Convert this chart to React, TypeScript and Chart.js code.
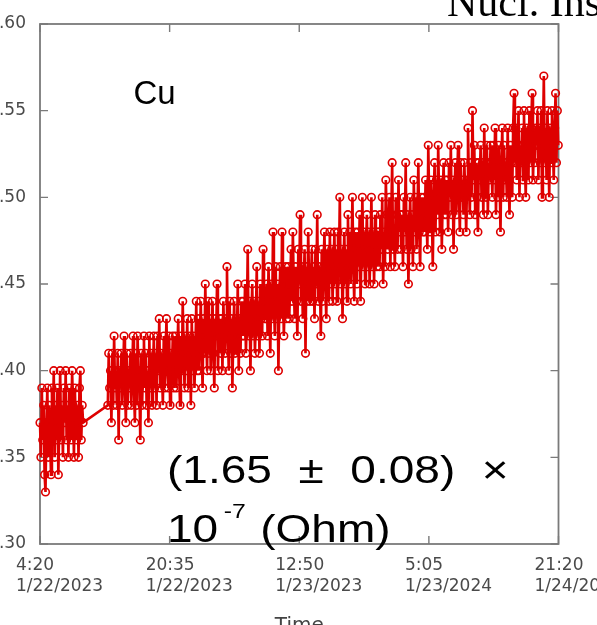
import React, { useEffect, useRef } from 'react';
import { Chart, registerables } from 'chart.js';

Chart.register(...registerables);

// ---------- data ----------
const X_TICK_MINUTES = [0, 975, 1950, 2925, 3900];
const X_TICK_LABELS = [
  ['4:20', '1/22/2023'],
  ['20:35', '1/22/2023'],
  ['12:50', '1/23/2023'],
  ['5:05', '1/23/2024'],
  ['21:20', '1/24/2024'],
];
const Y_TICK_VALUES = [0.3, 0.35, 0.4, 0.45, 0.5, 0.55, 0.6];
const Y_TICK_LABELS = ['.30', '.35', '.40', '.45', '.50', '.55', '.60'];

// sampling grid (minutes after 4:20 1/22)
const SEG1_START_MIN = 0;
const SEG1_STEP_MIN = 6.9;
const SEG2_START_MIN = 510;
const SEG2_STEP_MIN = 6.79;

// readings in hundredths
const SEG1_VALUES = [
  37, 35, 39, 36, 38, 34, 33, 37, 39, 35, 38, 36, 34, 39, 37, 40, 35, 38, 36, 39, 34, 37, 40, 36,
  38, 35, 39, 37, 40, 36, 38, 35, 39, 37, 36, 40, 38, 35, 39, 37, 36, 38, 35, 39, 40, 36, 38, 37,
];
const SEG2_VALUES = [
  38, 41, 39, 40, 37, 41, 38, 42, 39, 40, 38, 41, 36, 40, 39, 41, 38, 40, 42, 39, 37, 41, 38, 40, 39,
  41, 38, 40, 42, 39, 37, 41, 38, 42, 40, 39, 36, 41, 38, 40, 42, 39, 41, 38, 40, 37, 42, 39, 41, 38,
  40, 42, 39, 41, 38, 42, 40, 43, 39, 41, 40, 38, 42, 39, 41, 43, 40, 39, 42, 38, 41, 40, 42, 39, 41,
  42, 39, 41, 43, 40, 38, 42, 40, 44, 41, 39, 42, 40, 43, 39, 41, 42, 38, 43, 40, 42, 39, 41, 44, 40,
  43, 40, 42, 44, 41, 39, 43, 41, 45, 42, 40, 44, 41, 43, 40, 42, 44, 41, 39, 43, 42, 45, 40, 42, 43,
  41, 43, 40, 44, 42, 41, 43, 46, 42, 40, 44, 41, 43, 39, 42, 44, 41, 43, 42, 45, 40, 43, 41, 44, 42,
  44, 42, 45, 41, 43, 47, 42, 44, 40, 43, 45, 42, 44, 41, 43, 46, 42, 44, 41, 45, 43, 42, 47, 44, 43,
  43, 45, 42, 46, 44, 41, 45, 43, 48, 44, 42, 46, 43, 45, 40, 44, 46, 43, 48, 45, 42, 44, 46, 43, 45,
  46, 43, 45, 47, 44, 48, 45, 43, 46, 44, 42, 47, 45, 49, 44, 46, 43, 45, 47, 41, 46, 44, 48, 45, 44,
  45, 47, 44, 46, 43, 47, 45, 49, 44, 46, 45, 42, 47, 44, 46, 48, 45, 43, 47, 46, 44, 48, 45, 47, 44,
  46, 48, 45, 47, 44, 48, 46, 50, 45, 47, 43, 46, 48, 45, 47, 44, 49, 46, 48, 45, 47, 50, 46, 44, 48,
  47, 45, 48, 46, 49, 44, 47, 50, 46, 48, 45, 47, 49, 46, 48, 45, 47, 50, 46, 48, 45, 49, 47, 46, 48,
  48, 46, 49, 47, 50, 45, 48, 46, 51, 49, 47, 48, 50, 46, 49, 52, 47, 48, 46, 50, 49, 47, 51, 48, 49,
  47, 49, 46, 50, 48, 52, 47, 49, 45, 48, 50, 47, 49, 46, 51, 48, 50, 47, 49, 52, 48, 46, 50, 49, 48,
  50, 48, 51, 49, 47, 53, 50, 48, 51, 49, 46, 50, 52, 48, 51, 49, 53, 50, 48, 51, 47, 50, 52, 49, 51,
  49, 51, 48, 52, 50, 53, 49, 51, 47, 50, 52, 49, 51, 53, 50, 48, 52, 50, 51, 49, 52, 50, 48, 51, 54,
  51, 49, 52, 50, 55, 51, 53, 49, 52, 50, 48, 52, 51, 53, 50, 52, 49, 54, 51, 50, 53, 49, 52, 51, 53,
  52, 50, 53, 51, 54, 49, 52, 50, 53, 51, 48, 52, 54, 50, 53, 51, 52, 50, 54, 51, 49, 53, 52, 50, 54,
  56, 52, 54, 51, 53, 55, 50, 53, 52, 54, 51, 55, 52, 50, 54, 53, 51, 55, 52, 54, 56, 51, 53, 52, 54,
  53, 55, 51, 54, 52, 55, 50, 53, 57, 52, 54, 51, 55, 53, 50, 54, 52, 55, 53, 51, 54, 56, 52, 55, 53,
];

const RED = 'rgb(222,0,0)';
const FRAME = '#7a7a7a';
const TICK_TEXT = '#4a4a4a';

function buildPoints() {
  const pts: { x: number; y: number }[] = [];
  SEG1_VALUES.forEach((v, i) => pts.push({ x: SEG1_START_MIN + i * SEG1_STEP_MIN, y: v / 100 }));
  SEG2_VALUES.forEach((v, i) => pts.push({ x: SEG2_START_MIN + i * SEG2_STEP_MIN, y: v / 100 }));
  return pts;
}

const framePlugin = {
  id: 'frame',
  beforeDatasetsDraw(chart: any) {
    const { ctx, chartArea: a, scales } = chart;
    ctx.save();
    ctx.strokeStyle = FRAME;
    ctx.lineWidth = 1.8;
    ctx.strokeRect(a.left, a.top, a.right - a.left, a.bottom - a.top);
    const L = 8;
    ctx.lineWidth = 1.4;
    ctx.beginPath();
    scales.x.ticks.forEach((t: any) => {
      const px = scales.x.getPixelForValue(t.value);
      ctx.moveTo(px, a.bottom); ctx.lineTo(px, a.bottom - L);
      ctx.moveTo(px, a.top); ctx.lineTo(px, a.top + L);
    });
    scales.y.ticks.forEach((t: any) => {
      const py = scales.y.getPixelForValue(t.value);
      ctx.moveTo(a.left, py); ctx.lineTo(a.left + L, py);
      ctx.moveTo(a.right, py); ctx.lineTo(a.right - L, py);
    });
    ctx.stroke();
    ctx.restore();
  },
};

const textPlugin = {
  id: 'texts',
  afterDraw(chart: any) {
    const { ctx } = chart;
    ctx.save();
    ctx.fillStyle = '#000';
    ctx.textBaseline = 'alphabetic';
    ctx.textAlign = 'left';
    ctx.font = '42px "Liberation Serif"';
    ctx.fillText('Nucl. Ins', 447, 16);
    ctx.font = '33px "Liberation Sans"';
    ctx.fillText('Cu', 133.5, 104);
    ctx.save();
    ctx.translate(167, 483);
    ctx.scale(1.18, 1);
    ctx.font = '39px "Liberation Sans"';
    const words = ['(1.65', '±', '0.08)', '×'];
    const sp = ctx.measureText(' ').width + 11.7;
    let x = 0;
    words.forEach((w) => {
      ctx.fillText(w, x, 0);
      x += ctx.measureText(w).width + sp;
    });
    ctx.restore();
    ctx.save();
    ctx.translate(167, 542);
    ctx.scale(1.18, 1);
    ctx.font = '39px "Liberation Sans"';
    ctx.fillText('10', 0, 0);
    ctx.font = '21px "Liberation Sans"';
    ctx.fillText('-7', 48, -24);
    ctx.font = '39px "Liberation Sans"';
    ctx.fillText('(Ohm)', 79, 0);
    ctx.restore();
    ctx.restore();
  },
};

export default function App() {
  const ref = useRef<HTMLCanvasElement>(null);
  useEffect(() => {
    if (!ref.current) return;
    const tickFont = { family: '"DejaVu Sans"', size: 17, lineHeight: 1.23 };
    const chart = new Chart(ref.current, {
      type: 'scatter',
      data: {
        datasets: [
          {
            data: buildPoints(),
            showLine: true,
            borderColor: RED,
            borderWidth: 2.6,
            pointRadius: 3.8,
            pointBorderWidth: 1.6,
            pointBorderColor: RED,
            pointBackgroundColor: 'rgba(255,255,255,0)',
            clip: false as any,
            tension: 0,
          } as any,
        ],
      },
      options: {
        responsive: false,
        devicePixelRatio: 1,
        animation: false,
        layout: { padding: { top: 24, right: 38.5, left: 0, bottom: 0 } },
        plugins: { legend: { display: false }, tooltip: { enabled: false } },
        scales: {
          x: {
            type: 'linear',
            position: 'bottom',
            min: X_TICK_MINUTES[0],
            max: X_TICK_MINUTES[X_TICK_MINUTES.length - 1],
            grid: { display: false, drawTicks: false },
            border: { display: false },
            afterBuildTicks: (s: any) => {
              s.ticks = X_TICK_MINUTES.map((v) => ({ value: v }));
            },
            afterFit: (s: any) => {
              s.height = 96;
              s.paddingLeft = 0;
              s.paddingRight = 0;
            },
            ticks: {
              autoSkip: false,
              maxRotation: 0,
              minRotation: 0,
              align: 'start',
              labelOffset: -24,
              padding: 11.5,
              font: tickFont,
              color: TICK_TEXT,
              callback: (_v: any, i: number) => X_TICK_LABELS[i],
            },
            title: {
              display: true,
              text: 'Time',
              color: '#444',
              font: { family: '"DejaVu Sans"', size: 20 },
              padding: { top: 0, bottom: 2 },
            },
          },
          y: {
            type: 'linear',
            min: Y_TICK_VALUES[0],
            max: Y_TICK_VALUES[Y_TICK_VALUES.length - 1],
            grid: { display: false, drawTicks: false },
            border: { display: false },
            afterBuildTicks: (s: any) => {
              s.ticks = Y_TICK_VALUES.map((v) => ({ value: v }));
            },
            afterFit: (s: any) => {
              s.width = 40;
              s.paddingTop = 0;
              s.paddingBottom = 0;
            },
            ticks: {
              padding: 14,
              font: tickFont,
              color: TICK_TEXT,
              callback: (_v: any, i: number) => Y_TICK_LABELS[i],
            },
          },
        },
      } as any,
      plugins: [framePlugin, textPlugin],
    });
    return () => chart.destroy();
  }, []);

  return (
    <div
      style={{
        position: 'fixed',
        left: 0,
        top: 0,
        width: 597,
        height: 625,
        overflow: 'hidden',
        background: '#fff',
      }}
    >
      <canvas ref={ref} width={597} height={640} style={{ display: 'block', width: 597, height: 640 }} />
    </div>
  );
}
